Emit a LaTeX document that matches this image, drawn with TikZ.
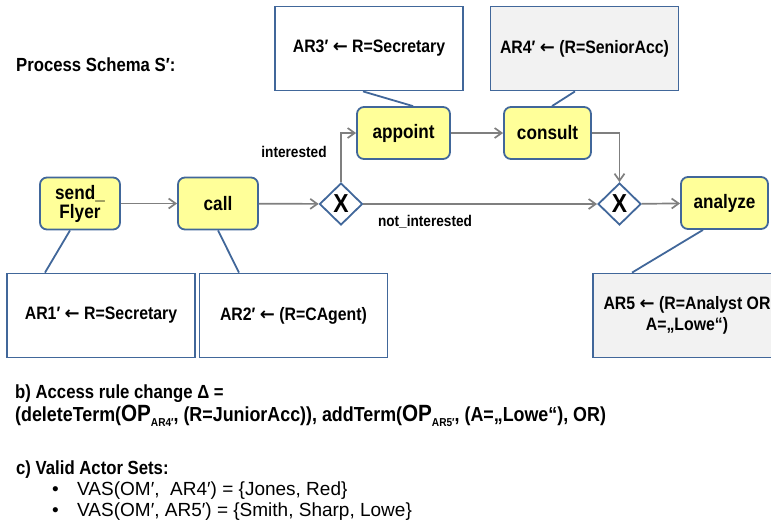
\documentclass[tikz,border=0pt]{standalone}
\usepackage{fontspec}
\setmainfont[FakeStretch=0.88]{Liberation Sans}
\newfontfamily\bulletfont{Liberation Sans}
\newfontfamily\symfont{DejaVu Sans}
\usetikzlibrary{arrows.meta,shapes.geometric}

\definecolor{actfill}{HTML}{FFFF99}
\definecolor{bluebord}{HTML}{41679A}
\definecolor{flowgray}{HTML}{7F7F7F}
\definecolor{boxgray}{HTML}{F2F2F2}

% bold left arrow used inside the access rules
\newcommand{\rulearrow}{{\symfont\bfseries ←}}
% lowered small index after OP
\newcommand{\opidx}[1]{{\fontsize{23.5}{23.5}\selectfont OP}\raisebox{-0.5ex}{\fontsize{11.5}{11.5}\selectfont #1}}

\begin{document}
\begin{tikzpicture}[x=1pt,y=-1pt,
  activity/.style={draw=bluebord, line width=1.8pt, fill=actfill,
    rounded corners=7pt, minimum width=#1, minimum height=52pt,
    inner sep=0pt, align=center,
    font=\fontsize{19.5}{20}\selectfont\bfseries},
  gateway/.style={diamond, draw=bluebord, line width=1.8pt, fill=white,
    minimum width=43pt, minimum height=42pt, inner sep=0pt,
    font=\fontsize{26}{26}\selectfont\bfseries},
  rulebox/.style={draw=bluebord, line width=1.8pt, fill=white,
    minimum width=188pt, minimum height=84pt, inner sep=0pt, align=center,
    font=\fontsize{18}{21}\selectfont\bfseries},
  rulegrey/.style={rulebox, fill=boxgray},
  flow/.style={draw=flowgray, line width=1.7pt,
    -{Straight Barb[length=7pt,width=10pt]}},
  assoc/.style={draw=bluebord, line width=1.8pt},
  flowlabel/.style={font=\fontsize{15.5}{18}\selectfont\bfseries},
  heading/.style={anchor=base west, inner sep=0pt,
    font=\fontsize{19}{22}\selectfont\bfseries},
  bulletline/.style={anchor=base west, inner sep=0pt,
    font=\fontsize{19}{22}\bulletfont}
]
\useasboundingbox (0,0) rectangle (771,531);

\node[heading] (title) at (16,71) {Process Schema S′:};

% activities and gateways
\node[activity=80pt] (sf) at (80,203.5) {send\_\\[-1pt]Flyer};
\node[activity=80pt] (call) at (218,203.5) {call};
\node[gateway] (gw1) at (341,204) {X};
\node[activity=93pt] (appoint) at (403.5,133) {appoint};
\node[activity=87pt] (consult) at (547.5,133) {consult};
\node[gateway] (gw2) at (619.5,204) {X};
\node[activity=87pt] (analyze) at (724.5,203) {analyze};

% access rules
\node[rulebox] (ar3) at (369,48.5) {AR3′ \rulearrow{} R=Secretary};
\node[rulegrey] (ar4) at (584.5,48.5) {AR4′ \rulearrow{} (R=SeniorAcc)};
\node[rulebox] (ar1) at (101,315.5) {AR1′ \rulearrow{} R=Secretary};
\node[rulebox] (ar2) at (293.5,315.5) {AR2′ \rulearrow{} (R=CAgent)};
\node[rulegrey] (ar5) at (687,315.5) {AR5 \rulearrow{} (R=Analyst OR\\A=„Lowe“)};

% associations between rules and activities
\draw[assoc] ([xshift=-6pt]ar3.south) -- ([xshift=9.5pt]appoint.north);
\draw[assoc] ([xshift=-9.5pt]ar4.south) -- ([xshift=4.5pt]consult.north);
\draw[assoc] ([xshift=-10pt]sf.south) -- ([xshift=-56pt]ar1.north);
\draw[assoc] (call.south) -- ([xshift=-54.5pt]ar2.north);
\draw[assoc] ([xshift=-21.5pt]analyze.south) -- ([xshift=-55pt]ar5.north);

% control flow
\draw[flow] (sf) -- (call);
\draw[flow] (call) -- (gw1);
\draw[flow] (gw1.north) |- (appoint.west);
\draw[flow] (appoint) -- (consult);
\draw[flow] (consult.east) -| (gw2.north);
\draw[flow] (gw1.east) -- (gw2.west);
\draw[flow] (gw2) -- (analyze);

\node[flowlabel] (lint) at (294,152) {interested};
\node[flowlabel] (lnot) at (425,222) {not\_interested};

% change description and actor sets
\node[heading] (delta) at (15,398) {b) Access rule change Δ =};
\node[heading, font=\fontsize{20.3}{22}\selectfont\bfseries] (ops) at (15,421) {(deleteTerm(\opidx{AR4′}, (R=JuniorAcc)), addTerm(\opidx{AR5′}, (A=„Lowe“), OR)};
\node[heading] (vas) at (16,474) {c) Valid Actor Sets:};
\node[bulletline] (b1) at (52,495) {•};
\node[bulletline] (v1) at (77,495) {VAS(OM′,\ \ AR4′) = \{Jones, Red\}};
\node[bulletline] (b2) at (52,516) {•};
\node[bulletline] (v2) at (77,516) {VAS(OM′, AR5′) = \{Smith, Sharp, Lowe\}};
\end{tikzpicture}
\end{document}
